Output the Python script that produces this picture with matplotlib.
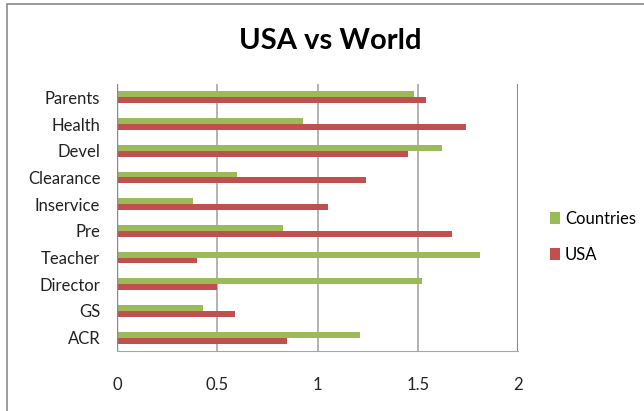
import matplotlib.pyplot as plt
import numpy as np
from matplotlib.patches import Rectangle

# categories from top to bottom as listed on the chart
categories = ['Parents', 'Health', 'Devel', 'Clearance', 'Inservice',
              'Pre', 'Teacher', 'Director', 'GS', 'ACR']
countries = [1.48, 0.93, 1.62, 0.60, 0.38, 0.83, 1.81, 1.52, 0.43, 1.21]
usa = [1.54, 1.74, 1.45, 1.24, 1.05, 1.67, 0.40, 0.50, 0.59, 0.85]
xticks = [0, 0.5, 1, 1.5, 2]
xticklabels = ['0', '0.5', '1', '1.5', '2']

GREEN = '#9BBB59'
RED = '#C0504D'

plt.rcParams['font.family'] = ['Lato', 'DejaVu Sans']

fig = plt.figure(figsize=(6.44, 4.11), dpi=100)
# outer frame of the chart
fig.patches.append(Rectangle((7 / 644, -0.1), 1.2, (411 - 4) / 411 + 0.1,
                             transform=fig.transFigure, fill=False,
                             edgecolor='#8a8a8a', linewidth=1.2))

ax = fig.add_axes([117 / 644, 1 - 351 / 411, 401 / 644, 267 / 411])

y = np.arange(len(categories))[::-1]
h = 0.22
ax.barh(y + h / 2, countries, height=h, color=GREEN, label='Countries', zorder=3)
ax.barh(y - h / 2, usa, height=h, color=RED, label='USA', zorder=3)

ax.set_xlim(0, 2)
ax.set_ylim(-0.5, len(categories) - 0.5)
ax.set_xticks(xticks)
ax.set_xticklabels(xticklabels, fontsize=12, color='#222222')
ax.set_yticks(y)
ax.set_yticklabels(categories, fontsize=12, color='#222222')
ax.tick_params(axis='y', length=0, pad=12)
ax.tick_params(axis='x', length=0, pad=19)
ax.xaxis.grid(True, color='#a6a6a6', linewidth=1.2, zorder=0)
for side in ['top', 'right', 'left']:
    ax.spines[side].set_visible(False)
ax.spines['bottom'].set_color('#a6a6a6')
ax.axvline(0, color='#8a8a8a', linewidth=1, zorder=4)
ax.axvline(2, color='#8a8a8a', linewidth=1.5, zorder=4)

fig.text(330 / 644, 1 - 41 / 411, 'USA vs World', ha='center', va='center',
         fontsize=21, fontweight='bold', color='black')

fig.legend(loc='center left', bbox_to_anchor=(535 / 644, 1 - 237 / 411),
           frameon=False, fontsize=12, handlelength=0.6, handleheight=0.7,
           handletextpad=0.3, labelspacing=1.2)

fig.savefig('out.png', dpi=100)
